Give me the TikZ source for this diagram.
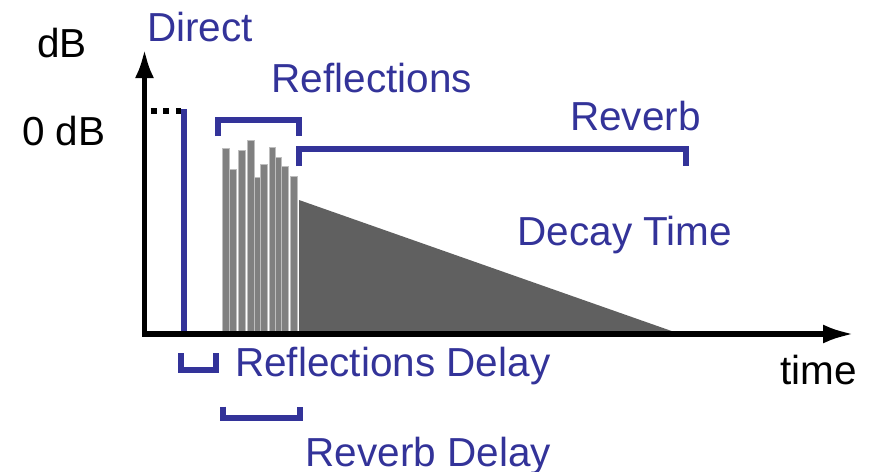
\documentclass[tikz,border=0pt]{standalone}
\usepackage{fontspec}
\setmainfont{Liberation Sans}
\usetikzlibrary{arrows.meta}
\definecolor{lblue}{RGB}{51,51,153}
\definecolor{bargray}{RGB}{128,128,128}
\definecolor{bargrayedge}{RGB}{190,190,190}
\definecolor{decaygray}{RGB}{96,96,96}
\tikzset{
  lbl/.style={inner sep=0pt, anchor=base west, font=\fontsize{40.5}{41}\selectfont},
  bluelbl/.style={lbl, text=lblue},
  blacklbl/.style={lbl, text=black},
  bracketline/.style={draw=lblue, line width=6pt, line join=miter, line cap=butt},
  axisline/.style={draw=black, line width=5.3pt, line join=miter},
  barbox/.style={fill=bargray, draw=bargrayedge, line width=0.8pt},
}
\begin{document}
\begin{tikzpicture}[x=1pt,y=-1pt]
\useasboundingbox (0,0) rectangle (874,471);
% bars
\foreach \l/\r/\t in {222.3/229/148.3, 229/236/169, 238.3/245.3/150.3, 247/254/140, 254/260/177.7, 260/267/164, 269/275.7/147, 275.7/281.7/157.3, 281.7/288.7/166, 290.7/297.3/176}
  \filldraw[barbox] (\l,331) rectangle (\r,\t);
% decay triangle
\fill[decaygray] (299,200) -- (299,331.5) -- (673,331.5) -- cycle;
% direct
\draw[draw=lblue, line width=6pt] (184,109.3) -- (184,332);
\draw[black, line width=6pt, dash pattern=on 6pt off 6.7pt] (150.7,111) -- (181,111);
% axes
\draw[axisline, {Latex[length=29pt,width=19pt]}-{Latex[length=31pt,width=19pt]}] (144.5,49) -- (144.5,334) -- (854,334);
% brackets
\draw[bracketline] (218,136) -- (218,119.5) -- (299.3,119.5) -- (299.3,136);
\draw[bracketline] (299,166) -- (299,149) -- (686,149) -- (686,166);
\draw[bracketline] (180.7,353.3) -- (180.7,370) -- (216.3,370) -- (216.3,353.3);
\draw[bracketline] (223,406.7) -- (223,418) -- (299.7,418) -- (299.7,406.7);
% labels
\node[bluelbl] (direct) at (147,41.7) {Direct};
\node[bluelbl] (refl) at (271.5,92.7) {Reflections};
\node[bluelbl] (reverb) at (570,130) {Reverb};
\node[bluelbl] (decay) at (517.5,245.7) {Decay Time};
\node[bluelbl] (refldelay) at (235,376.7) {Reflections Delay};
\node[bluelbl] (revdelay) at (305.5,466.7) {Reverb Delay};
\node[blacklbl] (db) at (37,57.7) {dB};
\node[blacklbl] (zerodb) at (22,145) {0 dB};
\node[blacklbl] (time) at (780.5,384.3) {time};
\end{tikzpicture}
\end{document}
